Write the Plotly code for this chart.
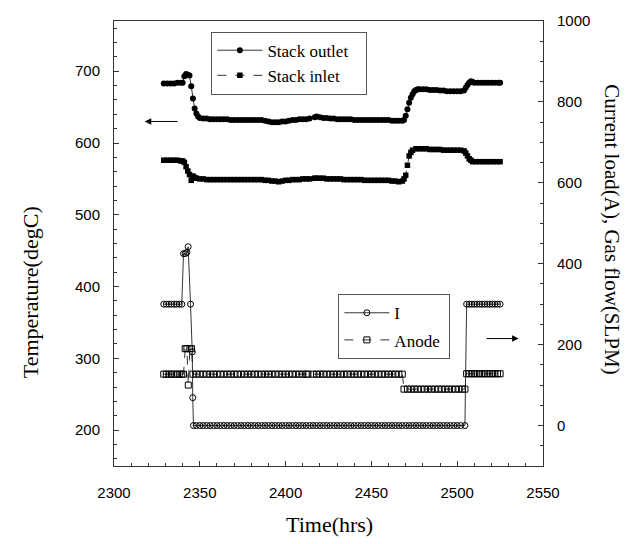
import plotly.graph_objects as go

# ---------------- data ----------------
# Stack outlet temperature (degC, left axis)
OUT_T = [2329, 2331, 2333, 2335, 2337, 2339, 2340, 2341, 2342, 2343,
         2344, 2345, 2346, 2347, 2348, 2349, 2350, 2352, 2354, 2356,
         2358, 2360, 2362, 2364, 2366, 2368, 2370, 2372, 2374, 2376,
         2378, 2380, 2382, 2384, 2386, 2388, 2390, 2392, 2394, 2396,
         2398, 2400, 2402, 2404, 2406, 2408, 2410, 2412, 2414, 2415,
         2417, 2418, 2420, 2422, 2424, 2426, 2428, 2430, 2432, 2434,
         2436, 2438, 2440, 2442, 2444, 2446, 2448, 2450, 2452, 2454,
         2456, 2458, 2460, 2462, 2464, 2466, 2468, 2469, 2470, 2471,
         2472, 2473, 2474, 2475, 2476, 2477, 2478, 2480, 2482, 2484,
         2486, 2488, 2490, 2492, 2494, 2496, 2498, 2500, 2502, 2504,
         2505, 2506, 2507, 2508, 2509, 2510, 2512, 2514, 2516, 2518,
         2520, 2522, 2524, 2525]
OUT_V = [683, 683, 683, 683, 684, 684, 684, 693, 696, 695,
         694, 679, 662, 648, 641, 637, 635, 634, 634, 633,
         633, 633, 633, 633, 633, 632, 632, 632, 632, 632,
         632, 632, 632, 632, 632, 631, 630, 629, 629, 629,
         630, 630, 631, 632, 632, 633, 633, 633, 634, None,
         636, 637, 636, 635, 635, 634, 634, 633, 633, 633,
         633, 633, 632, 632, 632, 632, 632, 632, 632, 632,
         632, 632, 632, 631, 631, 631, 631, 632, 638, 647,
         656, 663, 668, 672, 674, 675, 675, 675, 675, 674,
         674, 674, 673, 673, 672, 672, 672, 672, 672, 673,
         677, 681, 684, 686, 685, 684, 684, 684, 684, 684,
         684, 684, 684, 684]

# Stack inlet temperature (degC, left axis)
IN_T = [2329, 2331, 2333, 2335, 2337, 2339, 2340, 2341, 2342, 2343,
        2344, 2345, 2346, 2347, 2348, 2350, 2352, 2354, 2356, 2358,
        2360, 2362, 2364, 2366, 2368, 2370, 2372, 2374, 2376, 2378,
        2380, 2382, 2384, 2386, 2388, 2390, 2392, 2394, 2396, 2398,
        2400, 2402, 2404, 2406, 2408, 2410, 2412, 2414, 2415, 2417,
        2418, 2420, 2422, 2424, 2426, 2428, 2430, 2432, 2434, 2436,
        2438, 2440, 2442, 2444, 2446, 2448, 2450, 2452, 2454, 2456,
        2458, 2460, 2462, 2464, 2466, 2468, 2469, 2470, 2471, 2472,
        2473, 2474, 2476, 2478, 2480, 2482, 2484, 2486, 2488, 2490,
        2492, 2494, 2496, 2498, 2500, 2502, 2504, 2505, 2506, 2507,
        2508, 2509, 2511, 2513, 2515, 2517, 2519, 2521, 2523, 2525]
IN_V = [576, 576, 576, 576, 576, 575, 575, 573, 567, 561,
        556, 548, 554, 552, 551, 550, 550, 549, 549, 549,
        549, 549, 549, 549, 549, 549, 549, 549, 549, 549,
        549, 549, 549, 549, 548, 548, 547, 547, 546, 547,
        548, 548, 549, 549, 549, 550, 550, 550, None, 551,
        551, 551, 551, 550, 550, 550, 550, 550, 549, 549,
        549, 549, 549, 549, 548, 548, 548, 548, 548, 548,
        548, 548, 547, 547, 546, 547, 550, 555, 569, 582,
        587, 590, 592, 592, 592, 592, 591, 591, 591, 591,
        590, 590, 590, 590, 590, 590, 589, 586, 582, 578,
        576, 574, 574, 574, 574, 574, 574, 574, 574, 574]

# Current load I (A, right axis)
I_T = [2329, 2330.5, 2332, 2333.5, 2335, 2336.5, 2338, 2339.5, 2340.5, 2341.5,
       2342.5, 2343.2, 2344.6, 2345.6, 2345.9, 2346.3, 2348, 2350, 2352, 2354,
       2356, 2358, 2360, 2362, 2364, 2366, 2368, 2370, 2372, 2374,
       2376, 2378, 2380, 2382, 2384, 2386, 2388, 2390, 2392, 2394,
       2396, 2398, 2400, 2402, 2404, 2406, 2408, 2410, 2412, 2414,
       2416, 2418, 2420, 2422, 2424, 2426, 2428, 2430, 2432, 2434,
       2436, 2438, 2440, 2442, 2444, 2446, 2448, 2450, 2452, 2454,
       2456, 2458, 2460, 2462, 2464, 2466, 2468, 2470, 2472, 2474,
       2476, 2478, 2480, 2482, 2484, 2486, 2488, 2490, 2492, 2494,
       2496, 2498, 2500, 2502, 2504.5, 2505.5, 2507, 2508.5, 2510, 2511.5,
       2513, 2514.5, 2516, 2517.5, 2519, 2520.5, 2522, 2523.5, 2525]
I_V = [300, 300, 300, 300, 300, 300, 300, 300, 425, 425,
       428, 442, 300, 182, 69, 0, 0, 0, 0, 0,
       0, 0, 0, 0, 0, 0, 0, 0, 0, 0,
       0, 0, 0, 0, 0, 0, 0, 0, 0, 0,
       0, 0, 0, 0, 0, 0, 0, 0, 0, 0,
       0, 0, 0, 0, 0, 0, 0, 0, 0, 0,
       0, 0, 0, 0, 0, 0, 0, 0, 0, 0,
       0, 0, 0, 0, 0, 0, 0, 0, 0, 0,
       0, 0, 0, 0, 0, 0, 0, 0, 0, 0,
       0, 0, 0, 0, 0, 300, 300, 300, 300, 300,
       300, 300, 300, 300, 300, 300, 300, 300, 300]

# Anode gas flow (SLPM, right axis)
AN_T = [2329, 2330.5, 2332, 2333.5, 2335, 2336.5, 2338, 2339.5, 2340.5, 2341.5,
        2342.5, 2343.3, 2344.2, 2345.2, 2346, 2348, 2350, 2352, 2354, 2356,
        2358, 2360, 2362, 2364, 2366, 2368, 2370, 2372, 2374, 2376,
        2378, 2380, 2382, 2384, 2386, 2388, 2390, 2392, 2394, 2396,
        2398, 2400, 2402, 2404, 2406, 2408, 2410, 2412, 2413, 2414.5,
        2416, 2418, 2420, 2422, 2424, 2426, 2428, 2430, 2432, 2434,
        2436, 2438, 2440, 2442, 2444, 2446, 2448, 2450, 2452, 2454,
        2456, 2458, 2460, 2462, 2464, 2466, 2468, 2469, 2471, 2473,
        2475, 2477, 2479, 2481, 2483, 2485, 2487, 2489, 2491, 2493,
        2495, 2497, 2499, 2501, 2503, 2504.5, 2505.5, 2507, 2508.5, 2510,
        2511.5, 2513, 2514.5, 2516, 2517.5, 2519, 2520.5, 2522, 2523.5, 2525]
AN_V = [127, 127, 127, 127, 127, 127, 127, 127, 127, 190,
        190, 100, 190, 190, 127, 127, 127, 127, 127, 127,
        127, 127, 127, 127, 127, 127, 127, 127, 127, 127,
        127, 127, 127, 127, 127, 127, 127, 127, 127, 127,
        127, 127, 127, 127, 127, 127, 127, 127, 127, None,
        127, 127, 127, 127, 127, 127, 127, 127, 127, 127,
        127, 127, 127, 127, 127, 127, 127, 127, 127, 127,
        127, 127, 127, 127, 127, 127, 127, 90, 90, 90,
        90, 90, 90, 90, 90, 90, 90, 90, 90, 90,
        90, 90, 90, 90, 90, 90, 128, 128, 128, 128,
        128, 128, 128, 128, 128, 128, 128, 128, 128, 128]

X_TICKS = [2300, 2350, 2400, 2450, 2500, 2550]
YL_TICKS = [200, 300, 400, 500, 600, 700]
YR_TICKS = [0, 200, 400, 600, 800, 1000]

SERIF = "Liberation Serif"
SANS = "Liberation Sans"
PAD = "\u00a0"
END = "\u200b"

fig = go.Figure()

fig.add_trace(go.Scatter(
    x=OUT_T, y=OUT_V, name="Stack outlet" + PAD * 3 + END, mode="lines+markers",
    line=dict(color="black", width=0.8),
    marker=dict(symbol="circle", size=6, color="black"),
    legend="legend", legendgroup="a", yaxis="y"))
fig.add_trace(go.Scatter(
    x=IN_T, y=IN_V, name="Stack inlet", mode="lines+markers",
    line=dict(color="black", width=0.8, dash="dash"),
    marker=dict(symbol="square", size=5.5, color="black"),
    legend="legend", legendgroup="b", yaxis="y"))
fig.add_trace(go.Scatter(
    x=I_T, y=I_V, name="I", mode="lines+markers",
    line=dict(color="black", width=0.8),
    marker=dict(symbol="circle-open", size=6, color="black", line=dict(width=1)),
    legend="legend2", legendgroup="c", yaxis="y2"))
fig.add_trace(go.Scatter(
    x=AN_T, y=AN_V, name="Anode" + PAD + END, mode="lines+markers",
    line=dict(color="black", width=0.8, dash="dash"),
    marker=dict(symbol="square-open", size=6, color="black", line=dict(width=1)),
    legend="legend2", legendgroup="d", yaxis="y2"))

axis_common = dict(
    showline=True, linecolor="#333", linewidth=1, showgrid=False, zeroline=False,
    ticks="inside", ticklen=5, tickcolor="#333", tickwidth=1,
    tickfont=dict(family=SANS, size=15, color="black"),
)

fig.update_layout(
    width=633, height=544,
    margin=dict(l=114, r=90, t=18, b=78),
    paper_bgcolor="white", plot_bgcolor="white",
    showlegend=True,
    xaxis=dict(range=[2300, 2550], tickvals=X_TICKS, mirror=True,
               minor=dict(ticks="inside", ticklen=3, dtick=10, tick0=2300, tickcolor="#333"),
               ticklabelstandoff=13, **axis_common),
    yaxis=dict(range=[150, 770], tickvals=YL_TICKS,
               minor=dict(ticks="inside", ticklen=3, dtick=20, tick0=0, tickcolor="#333"),
               ticklabelstandoff=10, **axis_common),
    yaxis2=dict(range=[-100, 1000], tickvals=YR_TICKS, overlaying="y", side="right",
                minor=dict(ticks="inside", ticklen=3, dtick=50, tick0=0, tickcolor="#333"),
                ticklabelstandoff=10, **axis_common),
    legend=dict(x=0.227, y=0.976, xanchor="left", yanchor="top",
                bordercolor="#555", borderwidth=1, bgcolor="white",
                font=dict(family=SERIF, size=17, color="black"),
                tracegroupgap=0, itemwidth=45),
    legend2=dict(x=0.523, y=0.386, xanchor="left", yanchor="top",
                 bordercolor="#555", borderwidth=1, bgcolor="white",
                 font=dict(family=SERIF, size=17, color="black"),
                 tracegroupgap=2, itemwidth=45),
)

annotations = [
    dict(text="Temperature(degC)", xref="paper", yref="paper", x=-0.194, y=0.39,
         textangle=-90, showarrow=False, xanchor="center", yanchor="middle",
         font=dict(family=SERIF, size=22, color="black")),
    dict(text="Current load(A), Gas flow(SLPM)", xref="paper", yref="paper", x=1.162, y=0.531,
         textangle=90, showarrow=False, xanchor="center", yanchor="middle",
         font=dict(family=SERIF, size=21, color="black")),
    dict(text="Time(hrs)", xref="paper", yref="paper", x=0.503, y=-0.132,
         showarrow=False, xanchor="center", yanchor="middle",
         font=dict(family=SERIF, size=22, color="black")),
    dict(text="", x=2317.9, y=630, xref="x", yref="y", ax=2337.9, ay=630,
         axref="x", ayref="y", showarrow=True, arrowhead=2, arrowsize=1.3,
         arrowwidth=1, arrowcolor="black"),
    dict(text="", x=2535.8, y=215, xref="x", yref="y2", ax=2516.3, ay=215,
         axref="x", ayref="y2", showarrow=True, arrowhead=2, arrowsize=1.3,
         arrowwidth=1, arrowcolor="black"),
]
fig.update_layout(annotations=annotations)

fig.write_html("out.html")
